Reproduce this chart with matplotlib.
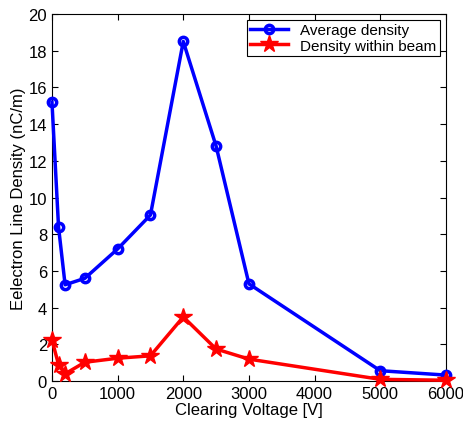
import matplotlib
matplotlib.use("Agg")
import matplotlib.pyplot as plt

plt.rcParams['font.family'] = ['Liberation Sans', 'DejaVu Sans']

# clearing voltage [V]
volt_avg = [0, 100, 200, 500, 1000, 1500, 2000, 2500, 3000, 5000, 6000]
avg_density = [15.2, 8.4, 5.25, 5.6, 7.2, 9.05, 18.5, 12.8, 5.3, 0.57, 0.33]

volt_beam = [0, 100, 200, 500, 1000, 1500, 2000, 2500, 3000, 5000, 6000]
beam_density = [2.25, 0.9, 0.4, 1.03, 1.25, 1.38, 3.5, 1.75, 1.2, 0.1, 0.05]

fig = plt.figure(figsize=(4.64, 4.27), dpi=100)
ax = fig.add_axes([0.112, 0.105, 0.849, 0.86])

ax.plot(volt_avg, avg_density, '-o', color='blue', lw=2.5, ms=6,
        mfc='none', mew=2.5, label='Average density', clip_on=False, zorder=3)
ax.plot(volt_beam, beam_density, '-*', color='red', lw=2.5, ms=13,
        label='Density within beam', clip_on=False, zorder=3)

ax.set_xlim(0, 6000)
ax.set_ylim(0, 20)
ax.set_xticks(range(0, 7000, 1000))
ax.set_yticks(range(0, 22, 2))
ax.tick_params(direction='in', labelsize=12, length=4, top=True, right=True)
ax.set_xlabel('Clearing Voltage [V]', fontsize=12, labelpad=1)
ax.set_ylabel('Eelectron Line Density (nC/m)', fontsize=12, labelpad=2)

leg = ax.legend(loc='upper right', fontsize=11, fancybox=False,
                framealpha=1, edgecolor='black', borderaxespad=0.4,
                handlelength=2.5, borderpad=0.2, labelspacing=0.1)
leg.get_frame().set_linewidth(0.8)

fig.savefig('out.png', dpi=100)
